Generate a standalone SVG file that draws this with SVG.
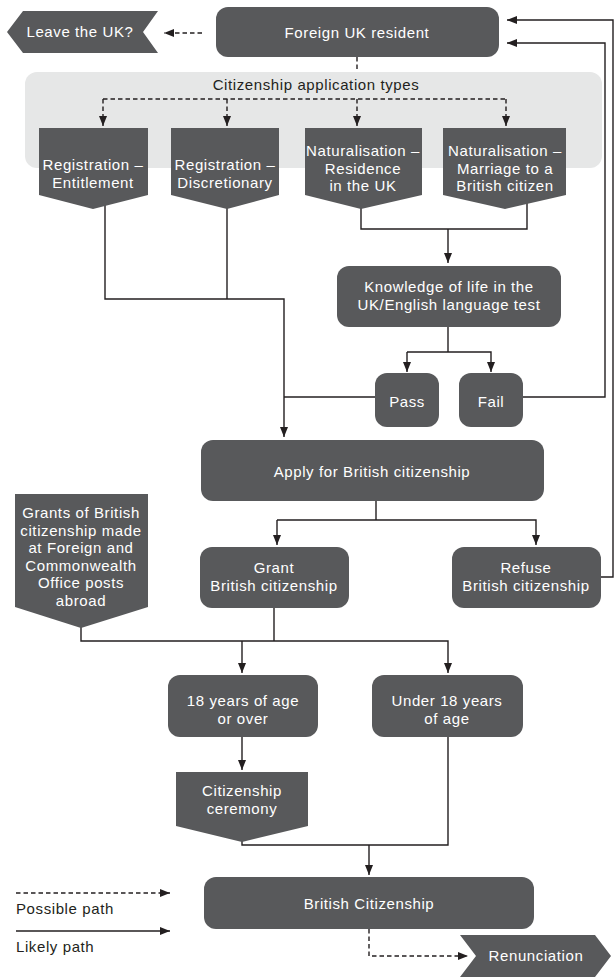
<svg xmlns="http://www.w3.org/2000/svg" width="615" height="977" viewBox="0 0 615 977">
<defs>
<marker id="ah" viewBox="0 0 10 8" refX="10" refY="4" markerWidth="10" markerHeight="8" markerUnits="userSpaceOnUse" orient="auto">
<path d="M0,0 L10,4 L0,8 Z" fill="#231f20"/>
</marker>
<style>
.n{fill:#58595b}
.t{fill:#ffffff;font-family:"Liberation Sans",Arial,sans-serif;font-size:15px;letter-spacing:0.6px;text-anchor:middle}
.k{fill:#231f20;font-family:"Liberation Sans",Arial,sans-serif;font-size:15px;letter-spacing:0.6px}
.c{fill:none;stroke:#231f20;stroke-width:1.4}
.d{stroke-dasharray:4.5 3}
.a{marker-end:url(#ah)}
</style>
</defs>
<rect width="615" height="977" fill="#ffffff"/>
<g id="app-types-area">
<rect x="25" y="72" width="577" height="96" rx="12" fill="#e6e7e7"/>
<text class="k" x="316" y="90" text-anchor="middle">Citizenship application types</text>
</g>
<g id="connectors">
<path class="c d a" d="M202,33 H164"/>
<path class="c d" d="M357,57 V72"/>
<path class="c d" d="M103,99 H506"/>
<path class="c d a" d="M103,99 V126"/>
<path class="c d a" d="M227,99 V126"/>
<path class="c d a" d="M357,99 V126"/>
<path class="c d a" d="M506,99 V126"/>
<path class="c a" d="M105,200 V299 H284 V437"/>
<path class="c" d="M227,200 V299"/>
<path class="c" d="M375,397 H284"/>
<path class="c" d="M361,200 V229 H527 V200"/>
<path class="c a" d="M448,229 V263"/>
<path class="c" d="M448,327 V352"/>
<path class="c a" d="M407,352 H491 V372"/>
<path class="c a" d="M407,352 V372"/>
<path class="c a" d="M523,397 H605 V43 H507"/>
<path class="c a" d="M601,577 H613 V20 H507"/>
<path class="c" d="M376,501 V520"/>
<path class="c a" d="M277,520 H536 V545"/>
<path class="c a" d="M277,520 V545"/>
<path class="c a" d="M81,620 V641 H448 V673"/>
<path class="c" d="M274,608 V641"/>
<path class="c a" d="M242,641 V673"/>
<path class="c a" d="M242,737 V770"/>
<path class="c" d="M448,737 V845 H242 V835"/>
<path class="c a" d="M369,845 V875"/>
<path class="c d a" d="M369,929 V956 H468"/>
<path class="c d a" d="M16,893 H170"/>
<path class="c a" d="M16,931 H170"/>
</g>
<g id="leave-uk">
<polygon class="n" points="7,32 23,11 158,11 143,32 158,53 23,53"/>
<text class="t" x="80" y="37">Leave the UK?</text>
</g>
<g id="foreign-uk-resident">
<rect class="n" x="216" y="7" width="283" height="50" rx="12"/>
<text class="t" x="357" y="38">Foreign UK resident</text>
</g>
<g id="registration-entitlement">
<polygon class="n" points="39,128 148,128 148,195 93,209 39,195"/>
<text class="t" x="93" y="170">Registration –</text>
<text class="t" x="93" y="188">Entitlement</text>
</g>
<g id="registration-discretionary">
<polygon class="n" points="171,128 279,128 279,195 227,209 171,195"/>
<text class="t" x="225" y="170">Registration –</text>
<text class="t" x="225" y="188">Discretionary</text>
</g>
<g id="naturalisation-residence">
<polygon class="n" points="305,128 422,128 422,195 361,209 305,195"/>
<text class="t" x="363" y="156">Naturalisation –</text>
<text class="t" x="363" y="173.5">Residence</text>
<text class="t" x="363" y="191">in the UK</text>
</g>
<g id="naturalisation-marriage">
<polygon class="n" points="443,128 566,128 566,195 505,209 443,195"/>
<text class="t" x="505" y="156">Naturalisation –</text>
<text class="t" x="505" y="173.5">Marriage to a</text>
<text class="t" x="505" y="191">British citizen</text>
</g>
<g id="knowledge-test">
<rect class="n" x="337" y="266" width="224" height="61" rx="12"/>
<text class="t" x="449" y="292">Knowledge of life in the</text>
<text class="t" x="449" y="310">UK/English language test</text>
</g>
<g id="pass">
<rect class="n" x="375" y="373" width="64" height="54" rx="12"/>
<text class="t" x="407" y="407">Pass</text>
</g>
<g id="fail">
<rect class="n" x="459" y="373" width="64" height="54" rx="12"/>
<text class="t" x="491" y="407">Fail</text>
</g>
<g id="apply">
<rect class="n" x="201" y="440" width="343" height="61" rx="12"/>
<text class="t" x="372" y="477">Apply for British citizenship</text>
</g>
<g id="grants-abroad">
<polygon class="n" points="15,494 148,494 148,607 81,628 15,607"/>
<text class="t" x="81" y="518">Grants of British</text>
<text class="t" x="81" y="535.5">citizenship made</text>
<text class="t" x="81" y="553">at Foreign and</text>
<text class="t" x="81" y="570.5">Commonwealth</text>
<text class="t" x="81" y="588">Office posts</text>
<text class="t" x="81" y="605.5">abroad</text>
</g>
<g id="grant">
<rect class="n" x="200" y="547" width="149" height="61" rx="12"/>
<text class="t" x="274" y="573">Grant</text>
<text class="t" x="274" y="591">British citizenship</text>
</g>
<g id="refuse">
<rect class="n" x="452" y="547" width="149" height="61" rx="12"/>
<text class="t" x="526" y="573">Refuse</text>
<text class="t" x="526" y="591">British citizenship</text>
</g>
<g id="over-18">
<rect class="n" x="168" y="675" width="150" height="62" rx="12"/>
<text class="t" x="243" y="706">18 years of age</text>
<text class="t" x="243" y="724">or over</text>
</g>
<g id="under-18">
<rect class="n" x="372" y="675" width="151" height="62" rx="12"/>
<text class="t" x="447" y="706">Under 18 years</text>
<text class="t" x="447" y="724">of age</text>
</g>
<g id="ceremony">
<polygon class="n" points="176,772 308,772 308,826 242,842 176,826"/>
<text class="t" x="242" y="796">Citizenship</text>
<text class="t" x="242" y="814">ceremony</text>
</g>
<g id="british-citizenship">
<rect class="n" x="204" y="877" width="330" height="52" rx="12"/>
<text class="t" x="369" y="909">British Citizenship</text>
</g>
<g id="renunciation">
<polygon class="n" points="460,935 595,935 611,956 595,977 460,977 476,956"/>
<text class="t" x="536" y="961">Renunciation</text>
</g>
<g id="legend">
<text class="k" x="16" y="914">Possible path</text>
<text class="k" x="16" y="952">Likely path</text>
</g>
</svg>
